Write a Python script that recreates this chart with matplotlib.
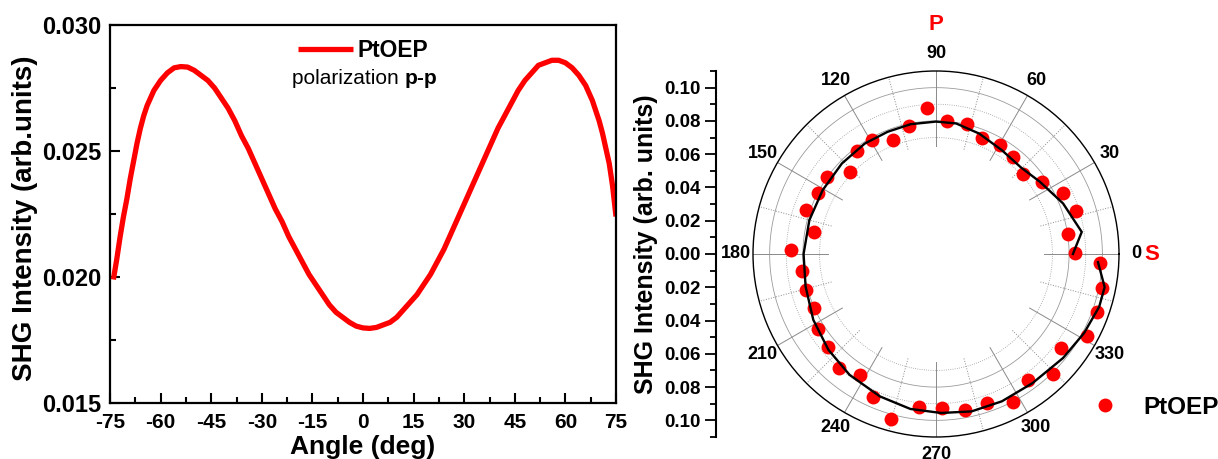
import numpy as np
import matplotlib
matplotlib.use("Agg")
import matplotlib.pyplot as plt
from matplotlib.ticker import MultipleLocator, FuncFormatter

plt.rcParams["axes.unicode_minus"] = False

# ---------------------------------------------------------------------------
# Left panel: SHG intensity vs incidence angle, p-p polarization.
# ---------------------------------------------------------------------------
angle_deg = [-74, -73, -72, -71, -70, -69, -68, -67, -66, -65, -64, -63, -62,
             -60, -58, -56, -54, -52, -50, -48, -46, -44, -42, -40, -38, -36,
             -34, -32, -30, -28, -26, -24, -22, -20, -18, -16, -14, -12, -10,
             -8, -6, -4, -2, 0, 2, 4, 6, 8, 10, 12, 14, 16, 18, 20, 22, 24,
             26, 28, 30, 32, 34, 36, 38, 40, 42, 44, 46, 48, 50, 52, 54, 56,
             58, 60, 62, 64, 66, 68, 70, 71, 72, 73, 74, 75]
shg_pp = [0.0199, 0.0207, 0.0216, 0.0224, 0.0231, 0.0239, 0.0246, 0.0253,
          0.0259, 0.0264, 0.0268, 0.0271, 0.0274, 0.0278, 0.0281, 0.0283,
          0.02835, 0.02833, 0.0282, 0.0280, 0.0278, 0.0275, 0.0271, 0.0267,
          0.0262, 0.0256, 0.0251, 0.0245, 0.0239, 0.0233, 0.0227, 0.0222,
          0.0216, 0.0211, 0.0206, 0.0201, 0.0197, 0.0193, 0.0189, 0.0186,
          0.0184, 0.01820, 0.01805, 0.01798, 0.01796, 0.01800, 0.0181,
          0.0182, 0.0184, 0.0187, 0.0190, 0.0193, 0.0197, 0.0201, 0.0206,
          0.0211, 0.0217, 0.0223, 0.0229, 0.0235, 0.0241, 0.0247, 0.0253,
          0.0259, 0.0264, 0.0269, 0.0274, 0.0278, 0.0281, 0.0284, 0.0285,
          0.0286, 0.0286, 0.0285, 0.0283, 0.0280, 0.0276, 0.0270, 0.0262,
          0.0257, 0.0251, 0.0245, 0.0236, 0.0224]

# ---------------------------------------------------------------------------
# Right panel: polar SHG pattern (measured points + fit).
# ---------------------------------------------------------------------------
polar_theta = [0.3, 8.8, 17.2, 25.7, 34.1, 42.8, 51.3, 59.5, 68.3, 76.6, 85.1,
               93.6, 101.8, 110.8, 119.2, 127.4, 136.3, 144.6, 152.8, 161.3,
               169.9, 178.4, 187.1, 195.4, 204.0, 212.5, 220.8, 229.6, 238.0,
               246.3, 254.9, 263.6, 272.1, 280.5, 288.8, 297.4, 306.2, 314.4,
               323.0, 331.6, 340.0, 348.3, 356.8]
polar_shg = [0.0834, 0.0805, 0.0878, 0.0848, 0.0770, 0.0712, 0.0744, 0.0759,
             0.0751, 0.0802, 0.0803, 0.0882, 0.0785, 0.0731, 0.0784, 0.0780,
             0.0714, 0.0801, 0.0797, 0.0823, 0.0743, 0.0874, 0.0810, 0.0813,
             0.0800, 0.0840, 0.0860, 0.0900, 0.0860, 0.0939, 0.1027, 0.0926,
             0.0926, 0.0956, 0.0946, 0.1002, 0.0936, 0.1008, 0.0941, 0.1030,
             0.1028, 0.1018, 0.0990]
fit_theta = [0, 8.6, 21.7, 34.7, 45.5, 57.6, 70.3, 81.2, 90, 101.1, 111.6,
             122.8, 136.1, 150.6, 165, 180, 194, 208.2, 221.7, 234.4, 248.5,
             260.6, 271.8, 282.7, 294.1, 306.8, 320.7, 331.9, 342.1, 348.9,
             357.1]
fit_shg = [0.0823, 0.0886, 0.0822, 0.0761, 0.0729, 0.0739, 0.0769, 0.0794,
           0.0796, 0.0795, 0.0790, 0.0790, 0.0785, 0.0782, 0.0788, 0.0796,
           0.0808, 0.0837, 0.0866, 0.0893, 0.0920, 0.0944, 0.0956, 0.0970,
           0.0970, 0.0969, 0.0987, 0.1009, 0.1031, 0.1033, 0.0975]

theta_ticks = list(range(0, 360, 30))
R_MAX = 0.11

W, H = 1218, 459
fig = plt.figure(figsize=(W / 100, H / 100), dpi=100)

BOLD = dict(family="Liberation Sans", weight="bold")

# ---------------------------------------------------------------------------
# Left panel
# ---------------------------------------------------------------------------
ax1 = fig.add_axes([110 / W, (H - 403) / H, 506 / W, 378 / H])
line, = ax1.plot(angle_deg, shg_pp, color="#ff0000", lw=3.8,
                 solid_capstyle="butt", solid_joinstyle="round", label="PtOEP")
ax1.set_xlim(-75, 75)
ax1.set_ylim(0.015, 0.030)
ax1.xaxis.set_major_locator(MultipleLocator(15))
ax1.xaxis.set_minor_locator(MultipleLocator(7.5))
ax1.yaxis.set_major_locator(MultipleLocator(0.005))
ax1.yaxis.set_minor_locator(MultipleLocator(0.0025))
ax1.yaxis.set_major_formatter(FuncFormatter(lambda v, p: f"{v:.3f}"))
ax1.tick_params(which="both", direction="in", top=False, right=False, width=1.5)
ax1.tick_params(which="major", length=7)
ax1.tick_params(which="minor", length=4)
ax1.tick_params(axis="x", pad=7)
ax1.tick_params(axis="y", pad=6)
for spine in ax1.spines.values():
    spine.set_linewidth(1.6)
for lab in ax1.get_xticklabels():
    lab.set(fontsize=15, **BOLD)
for lab in ax1.get_yticklabels():
    lab.set(fontsize=17, **BOLD)
ax1.set_xlabel("Angle (deg)", fontsize=19, va="baseline", **BOLD)
ax1.xaxis.set_label_coords(0.5, -(454 - 403) / 378)
ax1.set_ylabel("SHG Intensity (arb.units)", fontsize=20, **BOLD)
ax1.yaxis.set_label_coords(-0.142, 0.49)

ax1.legend(handles=[line], loc="center left",
           bbox_to_anchor=((298 - 110) / 506, (403 - 50) / 378),
           frameon=False, borderpad=0, borderaxespad=0, handlelength=2.4,
           handletextpad=0.22, prop=dict(size=16.4, **BOLD))
t1 = ax1.text((292 - 110) / 506, (403 - 78) / 378, "polarization ",
              transform=ax1.transAxes, ha="left", va="center", fontsize=15,
              family="Liberation Sans")
ax1.annotate("p-p", xy=(1, 0), xycoords=t1, ha="left", va="bottom",
             fontsize=15, **BOLD)

# ---------------------------------------------------------------------------
# Right panel: polar plot
# ---------------------------------------------------------------------------
ax2 = fig.add_axes([753 / W, 22 / H, 366 / W, 366 / H], projection="polar")
ax2.set_ylim(0, R_MAX)
ax2.grid(False)
ax2.set_yticks([])

# partial grid: circles and spokes only in the outer ring
ring = np.linspace(0, 2 * np.pi, 361)
for r, ls in [(0.07, ":"), (0.08, "-"), (0.09, ":"), (0.10, "-")]:
    ax2.plot(ring, np.full_like(ring, r), color="#9a9a9a", lw=0.6, ls=ls,
             zorder=0)
for a in range(0, 360, 15):
    ls = "-" if a % 30 == 0 else ":"
    ax2.plot([np.deg2rad(a)] * 2, [0.065, R_MAX], color="#8a8a8a", lw=0.7,
             ls=ls, zorder=0)

ax2.plot(np.deg2rad(fit_theta), fit_shg, color="black", lw=1.7, zorder=3)
dots, = ax2.plot(np.deg2rad(polar_theta), polar_shg, "o", color="#ff0000",
                 ms=10, mec="none", zorder=2, label="PtOEP")
ax2.set_xticks(np.deg2rad(theta_ticks))
ax2.set_xticklabels([str(t) for t in theta_ticks])
ax2.tick_params(axis="x", pad=2)
for lab in ax2.get_xticklabels():
    lab.set(fontsize=13, **BOLD)
ax2.spines["polar"].set_linewidth(1.0)

# P / S markers
ax2.text(np.deg2rad(90), 0.138, "P", color="#ff0000", fontsize=16,
         ha="center", va="center", **BOLD)
ax2.text(0, 0.1295, "S", color="#ff0000", fontsize=16,
         ha="center", va="center", **BOLD)

# radial intensity axis drawn as a vertical scale on the left
ax3 = fig.add_axes([716 / W, 22 / H, 0.0005, 366 / H])
ax3.set_ylim(-R_MAX, R_MAX)
ax3.set_xticks([])
for s in ["top", "right", "bottom"]:
    ax3.spines[s].set_visible(False)
ax3.spines["left"].set_linewidth(1.5)
ax3.yaxis.set_major_locator(MultipleLocator(0.02))
ax3.yaxis.set_minor_locator(MultipleLocator(0.01))
ax3.yaxis.set_major_formatter(FuncFormatter(lambda v, p: f"{abs(v):.2f}"))
ax3.tick_params(which="both", direction="out", width=1.3)
ax3.tick_params(which="major", length=8, pad=3)
ax3.tick_params(which="minor", length=4)
for lab in ax3.get_yticklabels():
    lab.set(fontsize=13.5, **BOLD)
ax3.set_ylabel("SHG Intensity (arb. units)", fontsize=18, **BOLD)
ax3.yaxis.set_label_coords(658 / W, (H - 244) / H, transform=fig.transFigure)

fig.legend(handles=[dots], loc="center left",
           bbox_to_anchor=(1081 / W, (H - 407) / H), frameon=False,
           borderpad=0, borderaxespad=0, numpoints=1, handlelength=2,
           handletextpad=0.55, prop=dict(size=17.5, **BOLD))

fig.savefig("out.png", dpi=100)
